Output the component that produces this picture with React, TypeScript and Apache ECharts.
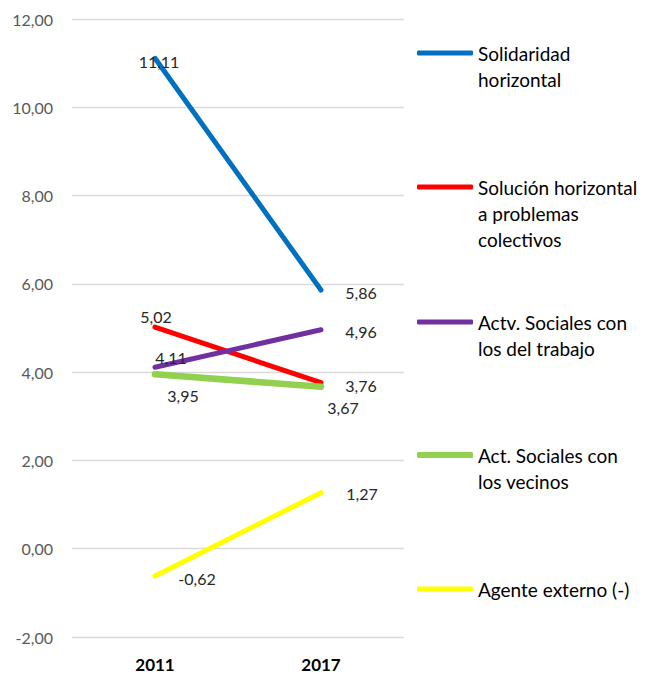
import React, { useEffect, useRef } from "react";
import * as echarts from "echarts";

const categories = ["2011", "2017"];
const seriesNames = [
  "Solidaridad horizontal",
  "Solución horizontal a problemas colectivos",
  "Actv. Sociales con los del trabajo",
  "Act. Sociales con los vecinos",
  "Agente externo (-)",
];
const solidaridad = [11.11, 5.86];
const solucion = [5.02, 3.76];
const actvTrabajo = [4.11, 4.96];
const actVecinos = [3.95, 3.67];
const agente = [-0.62, 1.27];
const yTicks = { min: -2, max: 12, interval: 2 };

const legendLines = [
  ["Solidaridad", "horizontal"],
  ["Solución horizontal", "a problemas", "colectivos"],
  ["Actv. Sociales con", "los del trabajo"],
  ["Act. Sociales con", "los vecinos"],
  ["Agente externo (-)"],
];

const FONT = "Lato, 'Open Sans', sans-serif";
const fmt = (v: number) => v.toFixed(2).replace(".", ",");

export default function App() {
  const ref = useRef<HTMLDivElement>(null);
  useEffect(() => {
    document.body.style.margin = "0";
    if (!ref.current) return;
    const chart = echarts.init(ref.current, undefined, { renderer: "svg" });
    const values = [solidaridad, solucion, actvTrabajo, actVecinos, agente];
    const colors = ["#0070C0", "#FF0000", "#7030A0", "#92D050", "#FFFF00"];
    const widths = [5, 5, 5, 6.5, 5];
    const offsets = [
      [[4, 3], [40, 2]],
      [[1, -11], [40, 3]],
      [[16, -10], [40, 2]],
      [[28, 21], [22, 21]],
      [[42, 2], [41, 1]],
    ];
    const iconCenters = [53, 187, 322, 455, 589];
    const L = 26;

    const series = values.map((vals, i) => ({
      type: "line",
      name: seriesNames[i],
      symbol: "circle",
      symbolSize: 0,
      showSymbol: true,
      lineStyle: { color: colors[i], width: widths[i], cap: "round" },
      itemStyle: { color: colors[i] },
      emphasis: { disabled: true },
      data: vals.map((v, j) => ({
        value: v,
        label: {
          show: true,
          position: "inside",
          offset: offsets[i][j],
          formatter: (p: any) => fmt(p.value),
          color: "#262626",
          fontSize: 16,
          fontFamily: FONT,
        },
      })),
    }));

    const legends = seriesNames.map((name, i) => {
      const n = legendLines[i].length;
      return {
        data: [{ name, icon: "roundRect" }],
        left: 417,
        top: iconCenters[i] - ((2 * n - 1) * L) / 2,
        padding: 0,
        itemWidth: 56,
        itemHeight: i === 3 ? 6 : 5,
        selectedMode: false,
        formatter: () => "\n".repeat(n - 1) + legendLines[i].join("\n"),
        textStyle: {
          fontFamily: FONT,
          fontSize: 19,
          color: "#000",
          lineHeight: L,
        },
      };
    });

    chart.setOption({
      animation: false,
      grid: { left: 72, top: 19, width: 332, height: 618, containLabel: false },
      legend: legends,
      xAxis: {
        type: "category",
        data: categories,
        boundaryGap: true,
        axisLine: { show: false },
        axisTick: { show: false },
        axisLabel: {
          fontFamily: FONT,
          fontWeight: "bold",
          fontSize: 17,
          color: "#000",
          margin: 19,
        },
      },
      yAxis: {
        type: "value",
        min: yTicks.min,
        max: yTicks.max,
        interval: yTicks.interval,
        axisLine: { show: false },
        axisTick: { show: false },
        splitLine: { lineStyle: { color: "#d9d9d9", width: 1.3 } },
        axisLabel: {
          formatter: (v: number) => fmt(v),
          fontFamily: FONT,
          fontSize: 16,
          color: "#595959",
          margin: 19,
        },
      },
      series,
    });
    return () => chart.dispose();
  }, []);
  return <div ref={ref} style={{ width: 645, height: 674 }} />;
}
